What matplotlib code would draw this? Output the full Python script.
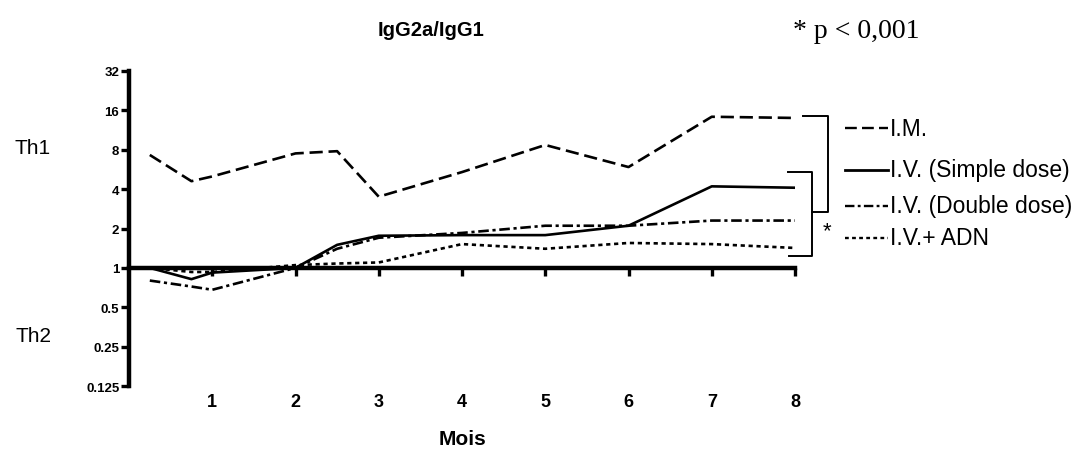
import matplotlib
matplotlib.use("Agg")
import matplotlib.pyplot as plt
from matplotlib.lines import Line2D

# ---- data ----
months = [0.25, 0.75, 1, 2, 2.5, 3, 4, 5, 6, 7, 8]
im_vals = [7.3, 4.6, 5.0, 7.5, 7.8, 3.5, 5.4, 8.7, 5.9, 14.3, 14.0]
iv_simple = [1.0, 0.82, 0.92, 1.0, 1.5, 1.76, 1.78, 1.78, 2.1, 4.2, 4.1]
iv_double = [0.8, 0.72, 0.68, 1.0, 1.4, 1.7, 1.85, 2.1, 2.1, 2.3, 2.3]
iv_adn = [1.0, 0.93, 0.93, 1.05, 1.08, 1.1, 1.52, 1.4, 1.55, 1.52, 1.42]
series_labels = ["I.M.", "I.V. (Simple dose)", "I.V. (Double dose)", "I.V.+ ADN"]
x_ticks = [1, 2, 3, 4, 5, 6, 7, 8]
y_ticks = [0.125, 0.25, 0.5, 1, 2, 4, 8, 16, 32]
y_ticklabels = ["0.125", "0.25", "0.5", "1", "2", "4", "8", "16", "32"]

W, H = 1078, 452
fig = plt.figure(figsize=(W / 100, H / 100), dpi=100)
plt.rcParams['font.family'] = ['Liberation Sans', 'DejaVu Sans']

def fx(px):
    return px / W

def fy(py):
    return 1 - py / H

ax = fig.add_axes([fx(129), fy(387), fx(795) - fx(129), fy(72) - fy(387)])
ax.set_yscale('log', base=2)
ax.set_xlim(0, 8)
ax.set_ylim(0.125, 32)

styles = [
    dict(ls=(0, (5, 2.2)), lw=1.9),
    dict(ls='-', lw=1.9),
    dict(ls=(0, (4, 1.4, 1.2, 1.4)), lw=1.9),
    dict(ls=(0, (1.6, 1.4)), lw=1.9),
]
all_series = [im_vals, iv_simple, iv_double, iv_adn]
for vals, st in zip(all_series, styles):
    ax.plot(months, vals, color='black', **st)

# spines
for s in ['top', 'right']:
    ax.spines[s].set_visible(False)
ax.spines['left'].set_linewidth(3.2)
ax.spines['bottom'].set_linewidth(3.2)
ax.spines['bottom'].set_position(('data', 1))
ax.spines['bottom'].set_zorder(5)

ax.set_yticks(y_ticks)
ax.set_yticklabels(y_ticklabels, fontsize=9.5, fontweight='bold')
ax.yaxis.set_minor_locator(matplotlib.ticker.NullLocator())
ax.tick_params(axis='y', direction='out', length=6, width=2.4, pad=1)

ax.set_xticks(x_ticks)
ax.set_xticklabels([])
ax.tick_params(axis='x', direction='out', length=6, width=2.4)
blend = matplotlib.transforms.blended_transform_factory(ax.transData, fig.transFigure)
for m in x_ticks:
    ax.text(m, fy(403), str(m), transform=blend,
            ha='center', va='center', fontsize=13, fontweight='bold')

fig.text(fx(463), fy(440), "Mois", ha='center', va='center', fontsize=15, fontweight='bold')
fig.text(fx(378), fy(31), "IgG2a/IgG1", ha='left', va='center', fontsize=14.5, fontweight='bold')
fig.text(fx(793), fy(31), "* p < 0,001", ha='left', va='center', fontsize=20,
         family=['Liberation Serif', 'DejaVu Serif'])
fig.text(fx(33), fy(148), "Th1", ha='center', va='center', fontsize=15)
fig.text(fx(34), fy(337), "Th2", ha='center', va='center', fontsize=15)

# brackets (figure pixel coordinates)
def fline(xs, ys, lw=1.4, ls='-'):
    fig.add_artist(Line2D([fx(x) for x in xs], [fy(y) for y in ys], transform=fig.transFigure,
                          color='black', lw=lw, ls=ls))

fline([803, 828, 828, 812], [117, 117, 213, 213])
fline([788, 812, 812, 789], [173, 173, 257, 257])
fig.text(fx(827), fy(232), "*", ha='center', va='center', fontsize=16)

# legend
legend_y = [129, 171, 207, 239]
for yy, st, lab in zip(legend_y, styles, series_labels):
    fline([845, 888], [yy, yy], ls=st['ls'], lw=2.0 if st['ls'] == '-' else 1.7)
    fig.text(fx(890), fy(yy), lab, ha='left', va='center', fontsize=16.5)

fig.savefig("out.png", dpi=100)
